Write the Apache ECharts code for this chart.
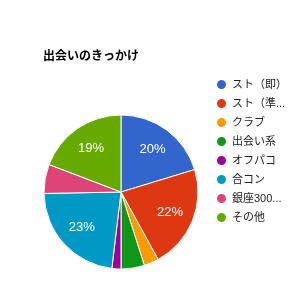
<!DOCTYPE html>
<html><head><meta charset="utf-8">
<script src="https://cdn.jsdelivr.net/npm/echarts@6/dist/echarts.min.js"></script>
<style>html,body{margin:0;padding:0;background:#fff}#c{width:300px;height:300px}</style>
</head><body><div id="c"></div>
<script>
const categories = ["スト（即）", "スト（準...", "クラブ", "出会い系", "オフパコ", "合コン", "銀座300...", "その他"];
const values = [20.3, 21.7, 3.1, 4.9, 1.9, 22.8, 6.1, 19.2];
const colors = ["#3366cc", "#dc3912", "#ff9900", "#109618", "#990099", "#0099c6", "#dd4477", "#66aa00"];
const titleText = "出会いのきっかけ";
const FONT = "'Liberation Sans', 'Noto Sans CJK JP', sans-serif";

const total = values.reduce((a, b) => a + b, 0);
const pieData = categories.map((n, i) => ({ name: n, value: values[i] }));
const labelData = categories.map((n, i) => ({
  name: n, value: values[i],
  label: { show: values[i] / total > 0.1 }
}));

const chart = echarts.init(document.getElementById('c'), null, { renderer: 'canvas' });
chart.setOption({
  animation: false,
  color: colors,
  title: {
    text: titleText, left: 38, top: 46,
    textStyle: { fontSize: 12, fontWeight: 'bold', color: '#000', fontFamily: FONT }
  },
  legend: {
    orient: 'vertical', left: 215, top: 78, padding: 0,
    icon: 'circle', itemWidth: 11, itemHeight: 11, itemGap: 6,
    data: categories,
    textStyle: { fontSize: 11, lineHeight: 12, color: '#222', fontFamily: FONT }
  },
  series: [
    {
      type: 'pie', center: [121, 192], radius: [0, 77], startAngle: 90, clockwise: true,
      data: pieData, silent: true,
      itemStyle: { borderColor: '#fff', borderWidth: 1 },
      label: { show: false }, labelLine: { show: false }
    },
    {
      type: 'pie', center: [121, 192], radius: [23, 77], startAngle: 90, clockwise: true,
      data: labelData, silent: true, percentPrecision: 0,
      itemStyle: { color: 'rgba(0,0,0,0)', borderWidth: 0 },
      label: { position: 'inside', formatter: '{d}%', color: '#fff', fontSize: 13, fontFamily: FONT },
      labelLine: { show: false }
    }
  ]
});
</script></body></html>
